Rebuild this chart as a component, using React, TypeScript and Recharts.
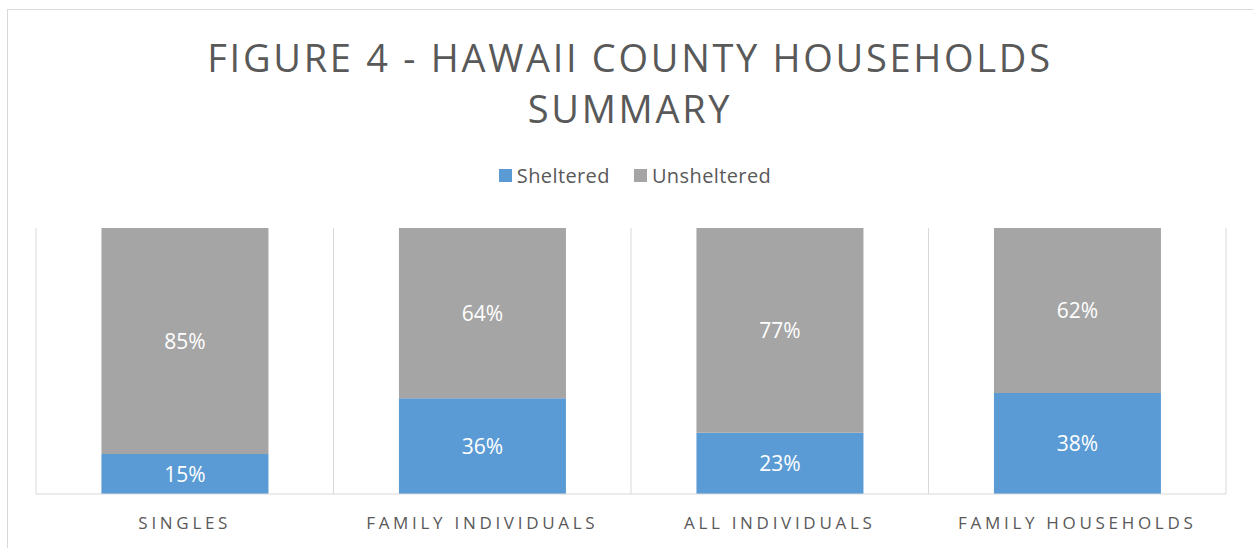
import React from "react";
import { BarChart, Bar, XAxis, YAxis, CartesianGrid, LabelList } from "recharts";

const categories = ["SINGLES", "FAMILY INDIVIDUALS", "ALL INDIVIDUALS", "FAMILY HOUSEHOLDS"];
const sheltered = [15, 36, 23, 38];
const unsheltered = [85, 64, 77, 62];

const data = categories.map((name, i) => ({
  name,
  sheltered: sheltered[i],
  unsheltered: unsheltered[i],
}));

const FONT = "'Open Sans', sans-serif";
const TEXT = "#595959";
const BLUE = "#5b9bd5";
const GRAY = "#a5a5a5";
const GRID = "#d9d9d9";

const CategoryTick = (props: any) => {
  const { x, y, payload } = props;
  return (
    <text
      x={x}
      y={y + 27}
      textAnchor="middle"
      fill={TEXT}
      fontFamily={FONT}
      fontSize={17}
      letterSpacing={3.7}
    >
      {payload.value}
    </text>
  );
};

export default function App() {
  return (
    <div
      style={{
        position: "absolute",
        left: 0,
        top: 0,
        width: 1253,
        height: 548,
        overflow: "hidden",
        background: "#fff",
        fontFamily: FONT,
      }}
    >
      <div
        style={{
          position: "absolute",
          left: 7,
          top: 9,
          width: 1400,
          height: 700,
          border: `1px solid ${GRID}`,
        }}
      />
      <div
        style={{
          position: "absolute",
          left: 0,
          top: 32,
          width: 1260,
          textAlign: "center",
          color: TEXT,
          fontSize: 38,
          letterSpacing: 2.7,
          lineHeight: "51px",
        }}
      >
        FIGURE 4 - HAWAII COUNTY HOUSEHOLDS
        <br />
        SUMMARY
      </div>
      <div
        style={{
          position: "absolute",
          left: 0,
          top: 162,
          width: 1270,
          display: "flex",
          justifyContent: "center",
          alignItems: "center",
          color: TEXT,
          fontSize: 20,
          letterSpacing: 0.4,
          gap: 24,
        }}
      >
        {[
          ["Sheltered", BLUE],
          ["Unsheltered", GRAY],
        ].map(([label, color]) => (
          <span key={label} style={{ display: "flex", alignItems: "center" }}>
            <span style={{ width: 13, height: 13, background: color, marginRight: 5, display: "inline-block" }} />
            {label}
          </span>
        ))}
      </div>
      <BarChart
        width={1253}
        height={548}
        data={data}
        margin={{ top: 228, right: 27, bottom: 0, left: 36 }}
        barCategoryGap="22%"
        style={{ position: "absolute", left: 0, top: 0 }}
      >
        <CartesianGrid
          horizontal={false}
          stroke={GRID}
          verticalCoordinatesGenerator={({ offset }: any) =>
            [0, 1, 2, 3, 4].map((i) => offset.left + (i * offset.width) / categories.length)
          }
        />
        <XAxis
          dataKey="name"
          height={54}
          axisLine={{ stroke: GRID }}
          tickLine={false}
          tick={<CategoryTick />}
          interval={0}
        />
        <YAxis hide domain={[0, 100]} />
        <Bar dataKey="sheltered" stackId="a" fill={BLUE} isAnimationActive={false}>
          <LabelList
            dataKey="sheltered"
            position="center"
            fill="#fff"
            fontFamily={FONT}
            fontSize={21}
            formatter={(v: any) => `${v}%`}
          />
        </Bar>
        <Bar dataKey="unsheltered" stackId="a" fill={GRAY} isAnimationActive={false}>
          <LabelList
            dataKey="unsheltered"
            position="center"
            fill="#fff"
            fontFamily={FONT}
            fontSize={21}
            formatter={(v: any) => `${v}%`}
          />
        </Bar>
      </BarChart>
    </div>
  );
}
